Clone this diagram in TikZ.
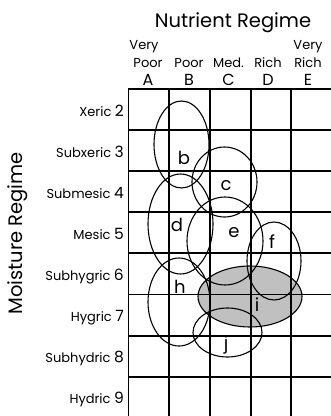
\documentclass[tikz,border=0pt]{standalone}
\usepackage{fontspec}
\setmainfont{Poppins}
\usetikzlibrary{positioning}
\definecolor{zonegray}{RGB}{192,192,192}
\tikzset{
  gridline/.style={line width=1.9pt,black,line cap=rect},
  zone/.style={line width=1.1pt,black},
  zonefill/.style={fill=zonegray},
  zonelabel/.style={font=\fontsize{18}{18}\selectfont,inner sep=0pt},
  axistitle/.style={font=\fontsize{19.5}{19.5}\selectfont,inner sep=0pt,anchor=base},
  collabel/.style={font=\fontsize{13}{13}\selectfont,inner sep=0pt,anchor=base},
  colletter/.style={font=\fontsize{16}{16}\selectfont,inner sep=0pt,anchor=base},
  rowlabel/.style={font=\fontsize{13}{13}\selectfont,inner sep=0pt,anchor=base east}
}
\newcommand{\rownum}[1]{{\fontsize{15.5}{15.5}\selectfont #1}}

\begin{document}
\begin{tikzpicture}[x=1pt,y=-1pt]
  \useasboundingbox (0,0) rectangle (331,416);
  \begin{scope}
    \clip (0,0) rectangle (331,416);
    %% shaded zone i
    \fill[zonefill] (250,296.5) ellipse [x radius=52,y radius=30.5];
    %% grid
    \foreach \k in {0,...,4}
      \draw[gridline] ({128.5+40.7*\k},89) -- ({128.5+40.7*\k},420);
    \foreach \k in {0,...,7}
      \draw[gridline] (128.5,{89+41.1*\k}) -- (340,{89+41.1*\k});
  \end{scope}

  %% zones
  \foreach \cx/\cy/\rx/\ry in {181.5/144.5/27.5/43.5, 224.5/182/32.5/35,
      180.5/224/32.5/50, 225/241/38/44, 274/261/27/39, 179/302/31/44,
      250/296.5/52/30.5, 227.5/332.5/34.5/24.5}
    \draw[zone] (\cx,\cy) ellipse [x radius=\rx,y radius=\ry];

  \foreach \z/\x/\y in {b/184/158, c/226/186, d/177/225, e/234/233,
      f/272/242, h/180/287, i/257/305, j/226/345}
    \node[zonelabel] (lab\z) at (\x,\y) {\z};

  %% axis titles
  \node[axistitle] (nutrient) at (233,27.5) {Nutrient Regime};
  \node[axistitle,rotate=90] (moisture) at (22.5,233.5) {Moisture Regime};

  %% nutrient classes
  \foreach \x/\lt/\nm in {148/A/Poor, 189/B/Poor, 228.5/C/Med., 268/D/Rich, 308/E/Rich} {
    \node[colletter] (col\lt) at (\x,85.5) {\lt};
    \node[collabel] (name\lt) at (\x,67.5) {\nm};
  }
  \node[collabel] (veryA) at (144,49.5) {Very};
  \node[collabel] (veryE) at (308,49.5) {Very};

  %% moisture classes
  \foreach \n/\nm [count=\r from 0] in {2/Xeric, 3/Subxeric, 4/Submesic, 5/Mesic,
      6/Subhygric, 7/Hygric, 8/Subhydric, 9/Hydric}
    \node[rowlabel] (row\n) at (124,{89+41.1*\r+27}) {\nm\ \rownum{\n}};
\end{tikzpicture}
\end{document}
